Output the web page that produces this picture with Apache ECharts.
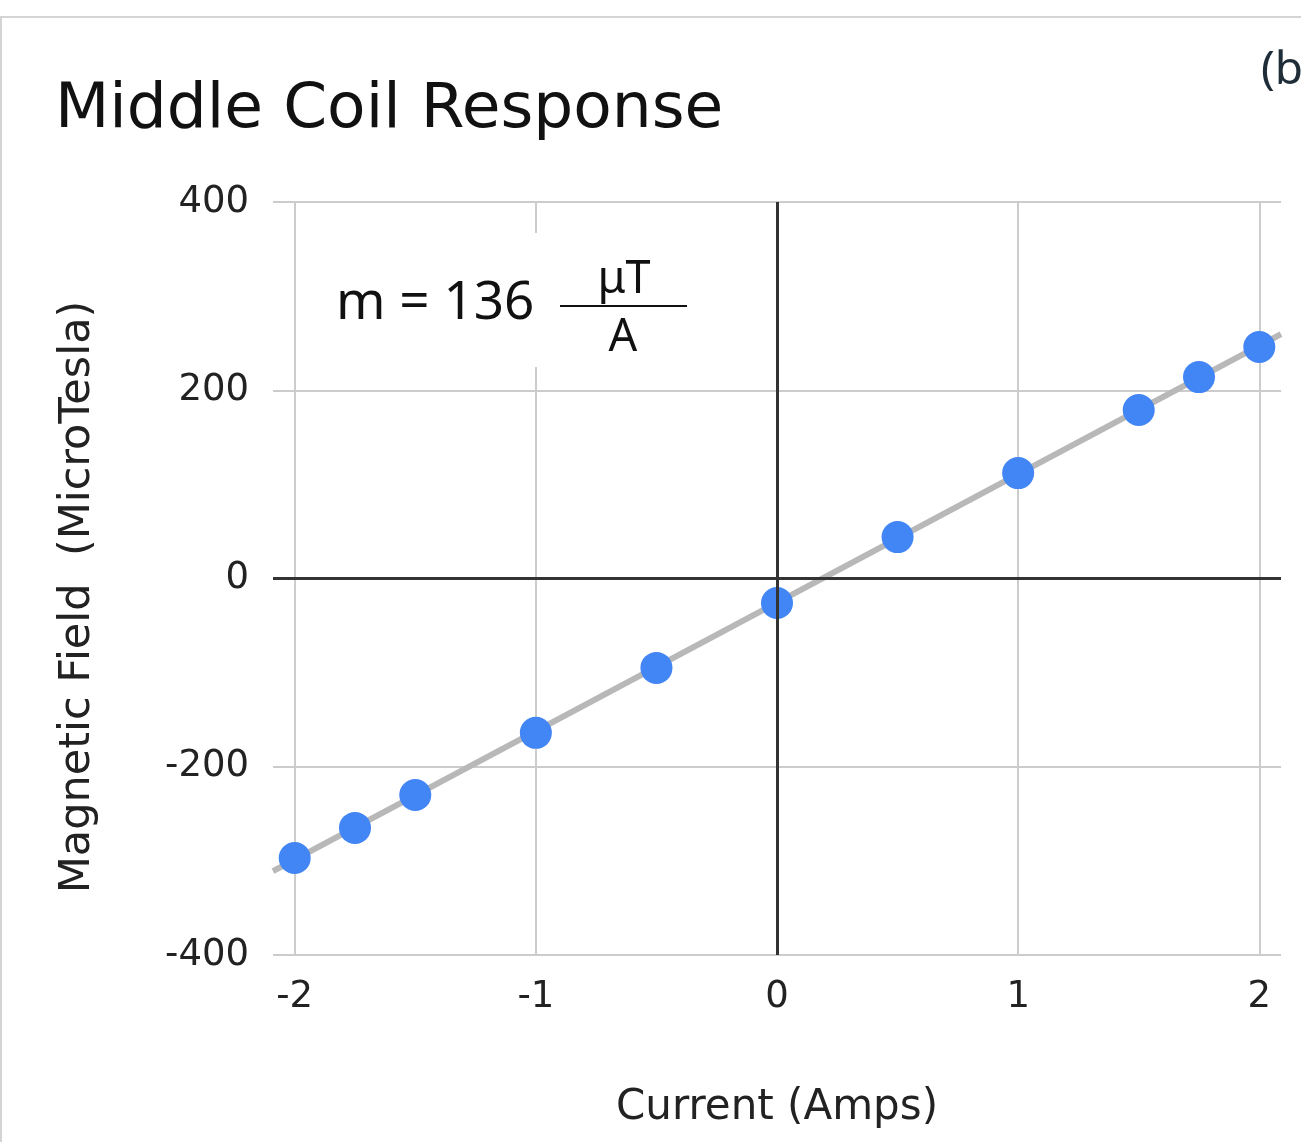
<!DOCTYPE html>
<html>
<head>
<meta charset="utf-8">
<script src="https://cdn.jsdelivr.net/npm/echarts@6/dist/echarts.min.js"></script>
<style>
  html, body { margin: 0; padding: 0; background: #fff; }
  #main { width: 1301px; height: 1142px; }
</style>
</head>
<body>
<div id="main"></div>
<script>
// measured current (A) and field (uT)
var currents = [-2, -1.75, -1.5, -1, -0.5, 0, 0.5, 1, 1.5, 1.75, 2];
var fields = [-297, -265, -230, -164, -95, -26, 44, 112, 179, 214, 246];
var xRange = [-2.09, 2.09];
var yTicks = [-400, -200, 0, 200, 400];

(function () {
    var myChart = echarts.init(document.getElementById('main'));

    var points = [];
    for (var i = 0; i < currents.length; i++) {
        points.push([currents[i], fields[i]]);
    }

    // least squares fit for the trend line
    var n = currents.length, sx = 0, sy = 0, sxx = 0, sxy = 0;
    for (var j = 0; j < n; j++) {
        sx += currents[j]; sy += fields[j];
        sxx += currents[j] * currents[j]; sxy += currents[j] * fields[j];
    }
    var slope = (n * sxy - sx * sy) / (n * sxx - sx * sx);
    var icpt = (sy - slope * sx) / n;
    var trend = [
        [xRange[0], icpt + slope * xRange[0]],
        [xRange[1], icpt + slope * xRange[1]]
    ];

    var font = 'DejaVu Sans';
    myChart.setOption({
        animation: false,
        title: {
            text: 'Middle Coil Response',
            left: 50,
            top: 74,
            textStyle: { fontFamily: font, fontSize: 63, fontWeight: 'normal', color: '#111' }
        },
        grid: { left: 273, right: 20, top: 202, bottom: 187 },
        xAxis: {
            type: 'value',
            min: xRange[0],
            max: xRange[1],
            splitNumber: 4,
            name: 'Current (Amps)',
            nameLocation: 'middle',
            nameGap: 132,
            nameTextStyle: { fontFamily: font, fontSize: 42, color: '#222' },
            axisLine: { show: false },
            axisTick: { show: false },
            axisLabel: {
                fontFamily: font, fontSize: 37, color: '#222', margin: 24,
                showMinLabel: false, showMaxLabel: false
            },
            splitLine: {
                show: true, showMinLine: false, showMaxLine: false,
                lineStyle: { color: '#cccccc', width: 2 }
            }
        },
        yAxis: {
            type: 'value',
            min: yTicks[0],
            max: yTicks[yTicks.length - 1],
            interval: 200,
            axisLine: { show: false },
            axisTick: { show: false },
            axisLabel: { fontFamily: font, fontSize: 37, color: '#222', margin: 24 },
            splitLine: { show: true, lineStyle: { color: '#cccccc', width: 2 } }
        },
        graphic: [
            {
                type: 'rect', z: 0,
                shape: { x: 1, y: 17, width: 1400, height: 1300 },
                style: { fill: 'none', stroke: '#d4d4d4', lineWidth: 2 },
                silent: true
            },
            {
                // y axis title
                type: 'text', z: 11, x: 78, y: 597, rotation: Math.PI / 2,
                style: {
                    text: 'Magnetic Field  (MicroTesla)', font: '43px "DejaVu Sans"',
                    fill: '#222', align: 'center', verticalAlign: 'middle'
                }
            },
            {
                type: 'rect', z: 10,
                shape: { x: 299, y: 233, width: 472, height: 134 },
                style: { fill: '#fff' },
                silent: true
            },
            {
                type: 'text', z: 11, x: 336, y: 304,
                style: { text: 'm = 136', font: '53px "Noto Sans"', fill: '#111', verticalAlign: 'middle' }
            },
            {
                type: 'text', z: 11, x: 624, y: 280,
                style: { text: 'μT', font: '45px "Noto Sans"', fill: '#111', align: 'center', verticalAlign: 'middle' }
            },
            {
                type: 'line', z: 11,
                shape: { x1: 560, y1: 306, x2: 687, y2: 306 },
                style: { stroke: '#111', lineWidth: 2 }
            },
            {
                type: 'text', z: 11, x: 623, y: 338,
                style: { text: 'A', font: '45px "Noto Sans"', fill: '#111', align: 'center', verticalAlign: 'middle' }
            },
            {
                type: 'text', z: 11, x: 1261, y: 71,
                style: { text: '(b)', font: '46px "Noto Sans"', fill: '#1e2d37', verticalAlign: 'middle' }
            }
        ],
        series: [
            {
                type: 'line',
                data: trend,
                showSymbol: false,
                silent: true,
                z: 2,
                lineStyle: { color: '#b8b8b8', width: 6 },
                markLine: {
                    silent: true,
                    symbol: 'none',
                    label: { show: false },
                    lineStyle: { color: '#333', width: 3, type: 'solid' },
                    data: [{ xAxis: 0 }, { yAxis: 0 }]
                }
            },
            {
                type: 'scatter',
                data: points,
                z: 3,
                symbolSize: 32,
                itemStyle: { color: '#4285F4', opacity: 1 }
            }
        ]
    });
})();
</script>
</body>
</html>
